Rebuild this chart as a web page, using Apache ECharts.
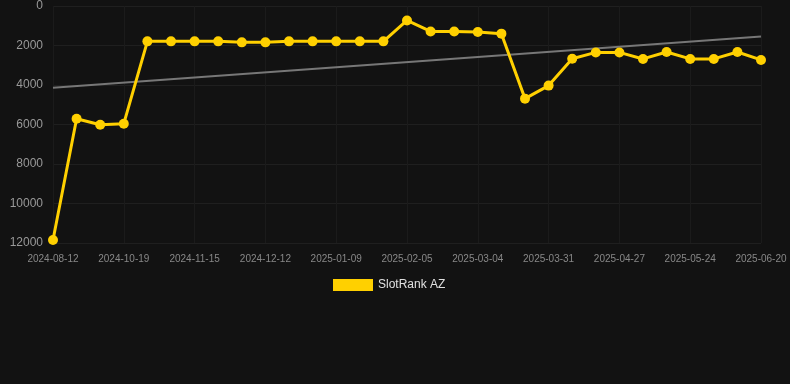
<!DOCTYPE html>
<html>
<head>
<meta charset="utf-8">
<script src="https://cdn.jsdelivr.net/npm/echarts@6/dist/echarts.min.js"></script>
<style>
  html, body { margin: 0; padding: 0; background: #121212; }
  #chart { width: 790px; height: 384px; }
</style>
</head>
<body>
<div id="chart"></div>
<script>
var dates = [
  "2024-08-12", "2024-09-04", "2024-09-27", "2024-10-19", "2024-10-28", "2024-11-06",
  "2024-11-15", "2024-11-24", "2024-12-03", "2024-12-12", "2024-12-21", "2024-12-31",
  "2025-01-09", "2025-01-18", "2025-01-27", "2025-02-05", "2025-02-14", "2025-02-23",
  "2025-03-04", "2025-03-13", "2025-03-22", "2025-03-31", "2025-04-09", "2025-04-18",
  "2025-04-27", "2025-05-06", "2025-05-15", "2025-05-24", "2025-06-02", "2025-06-11",
  "2025-06-20"
];
var rankValues = [
  11850, 5710, 6010, 5960, 1790, 1790, 1790, 1790, 1840, 1840, 1790, 1790,
  1790, 1790, 1790, 730, 1290, 1290, 1320, 1400, 4690, 4030, 2670, 2350,
  2350, 2680, 2330, 2680, 2680, 2330, 2730
];
var trendStart = 4140;
var trendEnd = 1540;
var yTicks = [0, 2000, 4000, 6000, 8000, 10000, 12000];

var myChart = echarts.init(document.getElementById("chart"));
var option = {
  backgroundColor: "#121212",
  animation: false,
  grid: { left: 53, right: 29, top: 6, bottom: 141 },
  legend: {
    top: 274,
    left: 328,
    itemWidth: 40,
    itemHeight: 12,
    itemGap: 10,
    textStyle: { color: "#e0e0e0", fontSize: 12, fontFamily: "Arial, Liberation Sans, sans-serif" },
    data: [{ name: "SlotRank AZ", icon: "rect" }]
  },
  xAxis: {
    type: "category",
    boundaryGap: false,
    data: dates,
    axisLine: { show: false },
    axisTick: { show: false },
    axisLabel: {
      interval: 2,
      color: "#888",
      fontSize: 10,
      margin: 11,
      fontFamily: "Arial, Liberation Sans, sans-serif"
    },
    splitLine: { show: true, interval: 2, lineStyle: { color: "#1b1b1b", width: 1 } }
  },
  yAxis: {
    type: "value",
    inverse: true,
    min: yTicks[0],
    max: yTicks[yTicks.length - 1],
    interval: 2000,
    axisLine: { show: false },
    axisTick: { show: false },
    axisLabel: {
      color: "#999",
      fontSize: 12,
      margin: 10,
      fontFamily: "Arial, Liberation Sans, sans-serif",
      formatter: function(v) { return String(v); }
    },
    splitLine: { lineStyle: { color: "#1f1f1f", width: 1 } }
  },
  series: [
    {
      name: "SlotRank AZ",
      type: "line",
      data: rankValues,
      color: "#ffd000",
      lineStyle: { width: 3, color: "#ffd000" },
      symbol: "circle",
      symbolSize: 10,
      itemStyle: { color: "#ffd000" },
      z: 3
    },
    {
      name: "trend",
      type: "line",
      data: [[dates[0], trendStart], [dates[dates.length - 1], trendEnd]],
      symbol: "none",
      lineStyle: { width: 2, color: "#777" },
      silent: true,
      z: 2
    }
  ]
};
myChart.setOption(option);
</script>
</body>
</html>
